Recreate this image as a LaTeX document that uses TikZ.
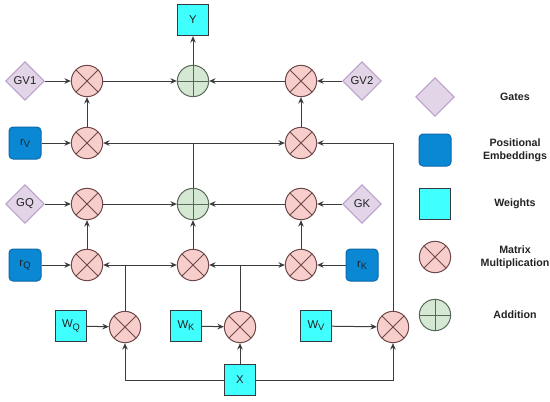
\documentclass[tikz,border=0pt]{standalone}
\usepackage{fontspec}
\setmainfont{Liberation Sans}
\usetikzlibrary{shapes.geometric,arrows.meta}

\definecolor{mulfill}{RGB}{248,206,204}
\definecolor{muldraw}{RGB}{110,72,72}
\definecolor{addfill}{RGB}{213,232,212}
\definecolor{adddraw}{RGB}{88,104,88}
\definecolor{gatefill}{RGB}{225,213,231}
\definecolor{gatedraw}{RGB}{185,160,204}
\definecolor{posfill}{RGB}{10,136,212}
\definecolor{posdraw}{RGB}{12,104,170}
\definecolor{wfill}{RGB}{64,255,255}
\definecolor{wdraw}{RGB}{54,57,61}
\definecolor{linec}{RGB}{60,60,60}
\definecolor{txtc}{RGB}{34,34,34}

\newcommand{\sbs}[1]{\raisebox{-0.35ex}{\fontsize{7}{8}\selectfont #1}}

\tikzset{every picture/.style={line width=0.75pt}}
\tikzset{
  lbl/.style={text=txtc, font=\fontsize{8.5}{10}\selectfont},
  mul/.style={circle, draw=muldraw, fill=mulfill, minimum size=23.5pt, inner sep=0pt,
    path picture={\draw[muldraw] (path picture bounding box.north west) -- (path picture bounding box.south east)
      (path picture bounding box.north east) -- (path picture bounding box.south west);}},
  addn/.style={circle, draw=adddraw, fill=addfill, minimum size=23.5pt, inner sep=0pt,
    path picture={\draw[adddraw] (path picture bounding box.north) -- (path picture bounding box.south)
      (path picture bounding box.west) -- (path picture bounding box.east);}},
  gate/.style={lbl, diamond, draw=gatedraw, fill=gatefill, minimum size=29pt, inner sep=0pt},
  posemb/.style={lbl, rectangle, rounded corners=3pt, draw=posdraw, fill=posfill, minimum size=24pt, inner sep=0pt},
  wgt/.style={lbl, rectangle, draw=wdraw, fill=wfill, minimum size=23.5pt, inner sep=0pt},
  legtext/.style={text=txtc, font=\bfseries\fontsize{8}{9.5}\selectfont, align=center},
  arr/.style={draw=linec, -{Stealth[length=4.8pt,width=4.2pt]}},
  ln/.style={draw=linec}
}

\begin{document}
\begin{tikzpicture}[x=0.75pt,y=0.75pt,yscale=-1,xscale=1]
\useasboundingbox (0,0) rectangle (550,401);

% Gated value branch
\node[wgt] (y) at (193,20) {Y};
\node[gate] (gvone) at (25,81) {GV1};
\node[mul] (mgvone) at (87,81) {};
\node[addn] (addv) at (193,81) {};
\node[mul] (mgvtwo) at (301,81) {};
\node[gate] (gvtwo) at (362,81) {GV2};
\node[posemb] (rv) at (25,143) {r\sbs{V}};
\node[mul] (mrv) at (87,143) {};
\node[mul] (mvv) at (301,143) {};

% Query / key branch
\node[gate] (gq) at (25,204) {GQ};
\node[mul] (mgq) at (87,204) {};
\node[addn] (addqk) at (193,204) {};
\node[mul] (mgk) at (301,204) {};
\node[gate] (gk) at (362,204) {GK};
\node[posemb] (rq) at (25,265) {r\sbs{Q}};
\node[mul] (mrq) at (87,265) {};
\node[mul] (mqk) at (193,265) {};
\node[mul] (mrk) at (301,265) {};
\node[posemb] (rk) at (362,265) {r\sbs{K}};

% Projections
\node[wgt] (wq) at (71,326) {W\sbs{Q}};
\node[mul] (mq) at (125,327) {};
\node[wgt] (wk) at (186,326) {W\sbs{K}};
\node[mul] (mk) at (240,327) {};
\node[wgt] (wv) at (316,326) {W\sbs{V}};
\node[mul] (mv) at (393,327) {};
\node[wgt] (x) at (240,380) {X};

% junctions
\coordinate (jqk) at (addqk |- mrv);
\coordinate (jq) at (mq |- mrq);
\coordinate (jk) at (mk |- mrk);

% top rows
\draw[arr] (gvone) -- (mgvone);
\draw[arr] (mgvone) -- (addv);
\draw[arr] (mgvtwo) -- (addv);
\draw[arr] (gvtwo) -- (mgvtwo);
\draw[arr] (addv) -- (y);
\draw[arr] (rv) -- (mrv);
\draw[arr] (mrv) -- (mgvone);
\draw[arr] (mvv) -- (mgvtwo);
\draw[ln] (addqk) -- (jqk);
\draw[arr] (jqk) -- (mrv);
\draw[arr] (jqk) -- (mvv);
\draw[arr] (mv) |- (mvv);

% middle rows
\draw[arr] (gq) -- (mgq);
\draw[arr] (mgq) -- (addqk);
\draw[arr] (mgk) -- (addqk);
\draw[arr] (gk) -- (mgk);
\draw[arr] (rq) -- (mrq);
\draw[arr] (mrq) -- (mgq);
\draw[arr] (mqk) -- (addqk);
\draw[arr] (mrk) -- (mgk);
\draw[arr] (rk) -- (mrk);
\draw[ln] (mq) -- (jq);
\draw[arr] (jq) -- (mrq);
\draw[arr] (jq) -- (mqk);
\draw[ln] (mk) -- (jk);
\draw[arr] (jk) -- (mqk);
\draw[arr] (jk) -- (mrk);

% bottom rows
\draw[arr] (wq) -- (mq);
\draw[arr] (wk) -- (mk);
\draw[arr] (wv) -- (mv);
\draw[arr] (x) -| (mq);
\draw[arr] (x) -- (mk);
\draw[arr] (x) -| (mv);

% Legend
\node[gate] (lgate) at (435,97) {};
\node[posemb] (lpos) at (435,150) {};
\node[wgt] (lwgt) at (435,204) {};
\node[mul] (lmul) at (435,257) {};
\node[addn] (ladd) at (435,315) {};
\node[legtext] (tgate) at (515,97) {Gates};
\node[legtext] (tpos) at (515,150) {Positional\\Embeddings};
\node[legtext] (twgt) at (515,204) {Weights};
\node[legtext] (tmul) at (515,257) {Matrix\\Multiplication};
\node[legtext] (tadd) at (515,315) {Addition};

\end{tikzpicture}
\end{document}
